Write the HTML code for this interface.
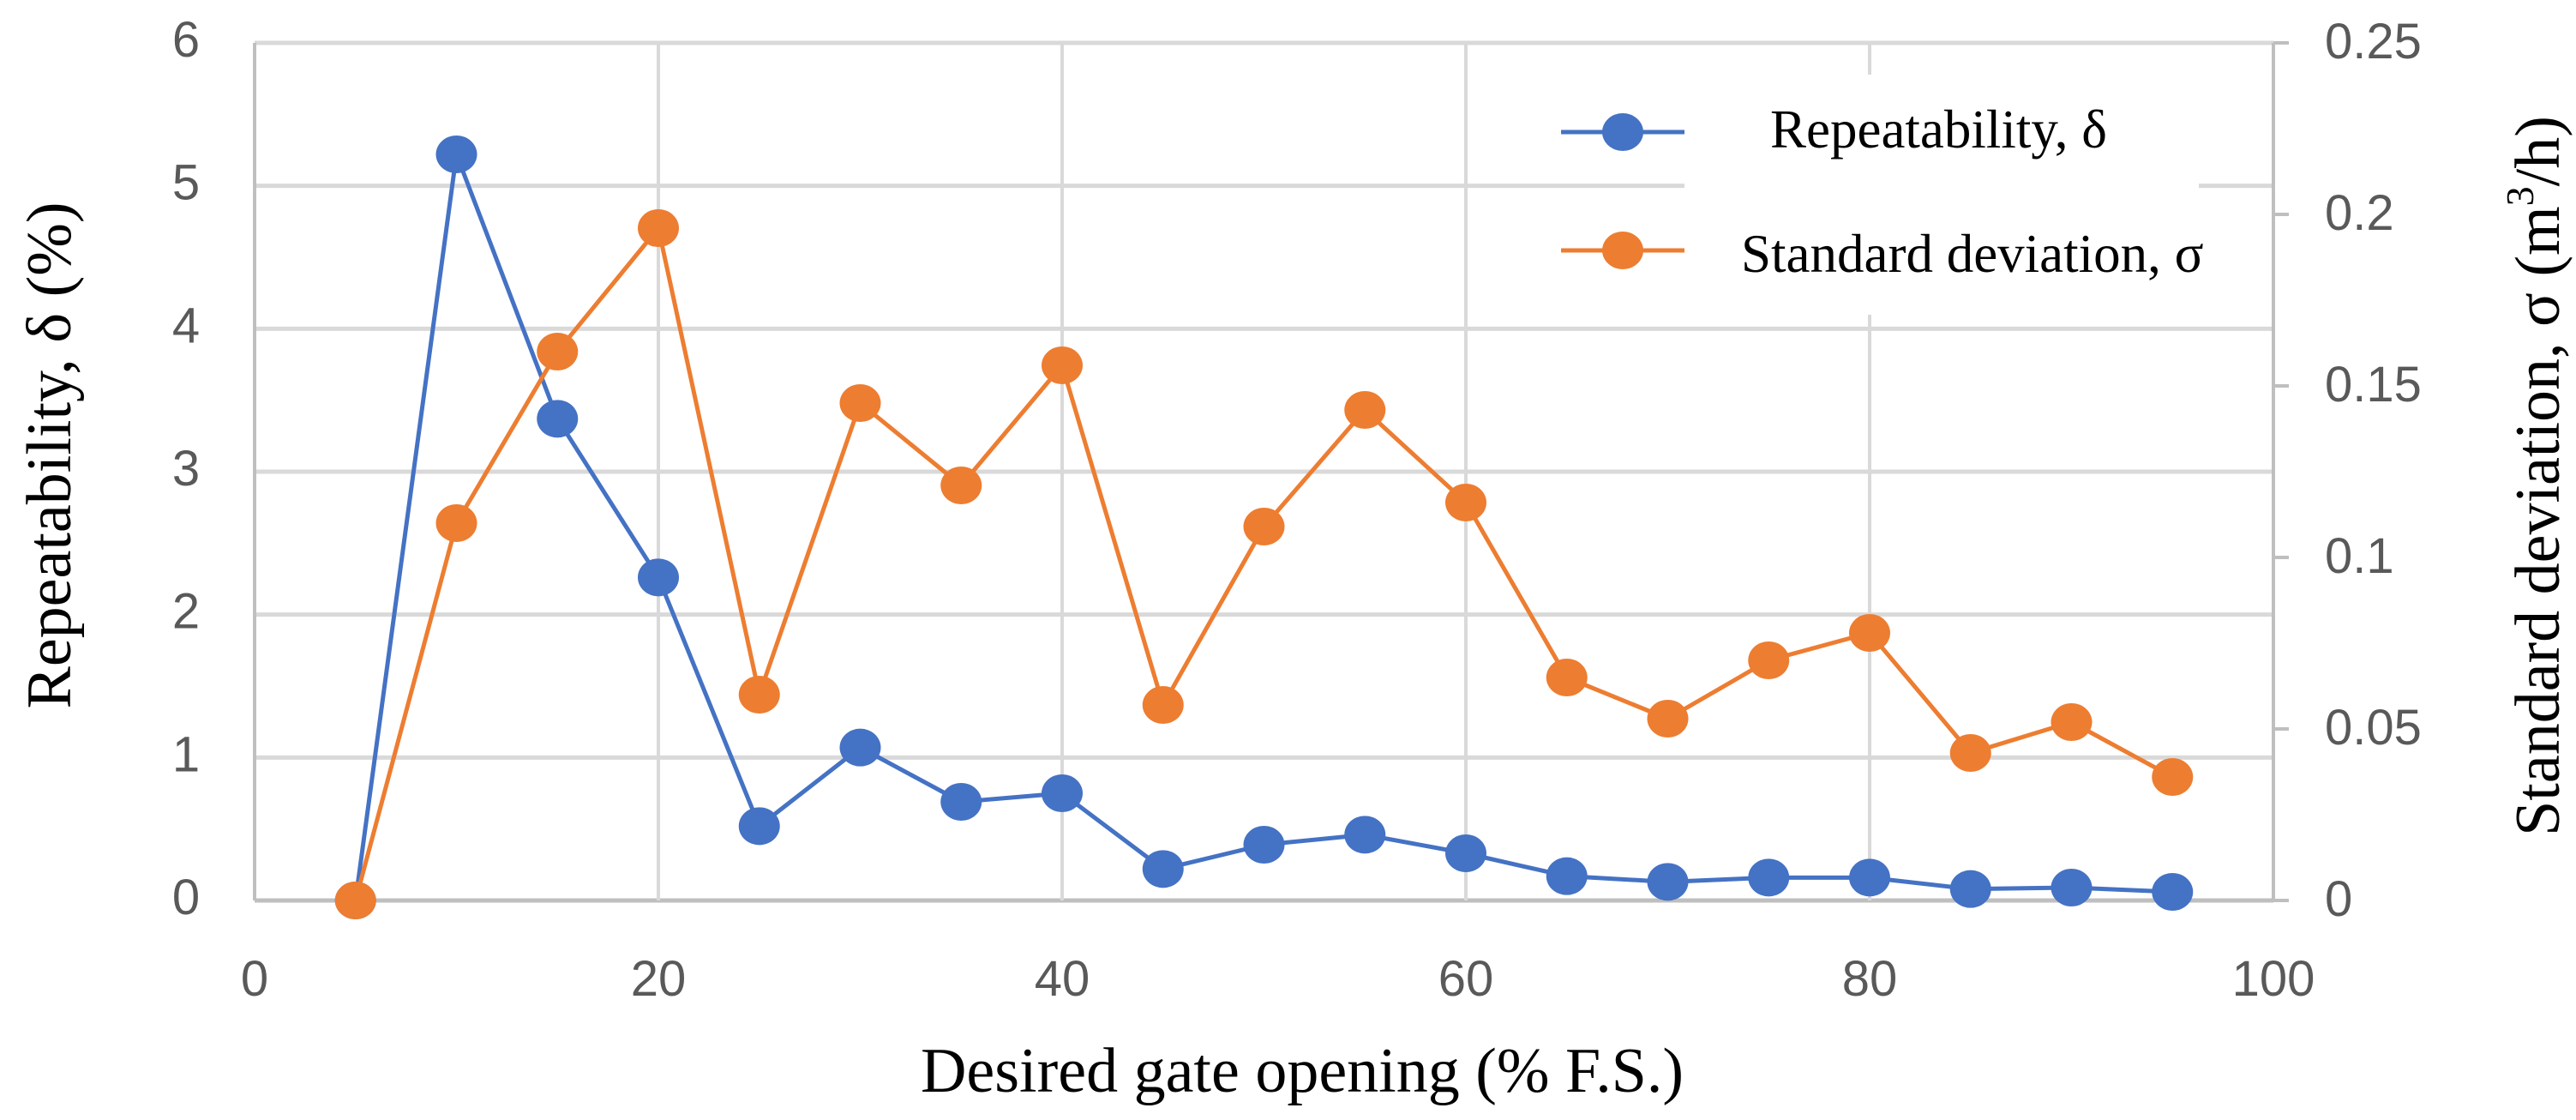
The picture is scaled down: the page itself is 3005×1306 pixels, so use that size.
<!DOCTYPE html>
<html><head><meta charset="utf-8"><style>
html,body{margin:0;padding:0;background:#fff;width:3005px;height:1306px;overflow:hidden}
svg{display:block}
.tk{font-family:"Liberation Sans",sans-serif;font-size:58px;fill:#595959}
.ti{font-family:"Liberation Serif",serif;font-size:74px;fill:#000}
.lg{font-family:"Liberation Serif",serif;font-size:63px;fill:#000}
</style></head><body>
<svg id="chart" width="3005" height="1306" xmlns="http://www.w3.org/2000/svg">
<g id="grid"></g>
<g id="axes"></g>
<rect x="1965" y="87" width="600" height="280" fill="#fff"/>
<g id="series"></g>
<g>
<line x1="1821" y1="154" x2="1965" y2="154" stroke="#4472C4" stroke-width="5"/>
<ellipse cx="1893" cy="154" rx="24" ry="22" fill="#4472C4"/>
<text class="lg" x="2065" y="172">Repeatability, δ</text>
<line x1="1821" y1="292" x2="1965" y2="292" stroke="#ED7D31" stroke-width="5"/>
<ellipse cx="1893" cy="292" rx="24" ry="22" fill="#ED7D31"/>
<text class="lg" x="2031" y="317">Standard deviation, σ</text>
</g>
<text class="ti" x="1519" y="1273" text-anchor="middle">Desired gate opening (% F.S.)</text>
<text class="ti" transform="translate(82,531) rotate(-90)" text-anchor="middle">Repeatability, δ (%)</text>
<text class="ti" transform="translate(2985,555) rotate(-90)" text-anchor="middle">Standard deviation, σ  (m<tspan font-size="46" dy="-30">3</tspan><tspan dy="30">/h)</tspan></text>
</svg>
<script>
const xs=[5,10,15,20,25,30,35,40,45,50,55,60,65,70,75,80,85,90,95];
const repeatability=[0,5.22,3.37,2.26,0.52,1.07,0.69,0.75,0.22,0.39,0.46,0.33,0.17,0.13,0.16,0.16,0.08,0.09,0.06];
const stdDev=[0,0.110,0.160,0.196,0.060,0.145,0.121,0.156,0.057,0.109,0.143,0.116,0.065,0.053,0.070,0.078,0.043,0.052,0.036];
const xTicks=[0,20,40,60,80,100];
const yLeftTicks=[0,1,2,3,4,5,6];
const yRightTicks=["0","0.05","0.1","0.15","0.2","0.25"];
const NS="http://www.w3.org/2000/svg";
const X0=297,X1=2652,Y0=1050,Y1=50;
const sx=v=>X0+(X1-X0)*v/100;
const syL=v=>Y0-(Y0-Y1)*v/6;
const syR=v=>Y0-(Y0-Y1)*v/0.25;
function mk(tag,attrs,parent){const e=document.createElementNS(NS,tag);for(const k in attrs)e.setAttribute(k,attrs[k]);parent.appendChild(e);return e;}
const grid=document.getElementById('grid'),axes=document.getElementById('axes'),series=document.getElementById('series');
yLeftTicks.forEach(t=>{
  const l=mk('line',{x1:X0,x2:X1,y1:syL(t),y2:syL(t),stroke:t===0?'#bfbfbf':'#d9d9d9','stroke-width':5},grid);
  
  
  const tx=mk('text',{x:217,y:syL(t)+16,'text-anchor':'middle',class:'tk'},axes);
  tx.textContent=t;
  
  
});
xTicks.forEach(t=>{
  const l=mk('line',{x1:sx(t),x2:sx(t),y1:Y1,y2:Y0,stroke:t===0?'#bfbfbf':'#d9d9d9','stroke-width':4},grid);
  
  
  const tx=mk('text',{x:sx(t),y:1161,'text-anchor':'middle',class:'tk'},axes);
  tx.textContent=t;
  
  
});
const ra=mk('line',{x1:X1,x2:X1,y1:Y1,y2:Y0,stroke:'#bfbfbf','stroke-width':4},axes);


yRightTicks.forEach(t=>{
  const y=syR(parseFloat(t));
  const l=mk('line',{x1:X1,x2:X1+18,y1:y,y2:y,stroke:'#bfbfbf','stroke-width':4},axes);
  
  
  const tx=mk('text',{x:2712,y:y+18,class:'tk'},axes);
  tx.textContent=t;
  
  
});
function drawSeries(vals,fy,color,name){
  const g=mk('g',{},series);
  
  
  const p=mk('polyline',{points:xs.map((x,i)=>sx(x)+','+fy(vals[i])).join(' '),fill:'none',stroke:color,'stroke-width':5,'stroke-linejoin':'round'},g);
  
  
  xs.forEach((x,i)=>{
    const c=mk('ellipse',{cx:sx(x),cy:fy(vals[i]),rx:24,ry:22,fill:color},g);
    
    
  });
}
drawSeries(repeatability,syL,'#4472C4','repeatability');
drawSeries(stdDev,syR,'#ED7D31','std-deviation');
</script>
</body></html>
